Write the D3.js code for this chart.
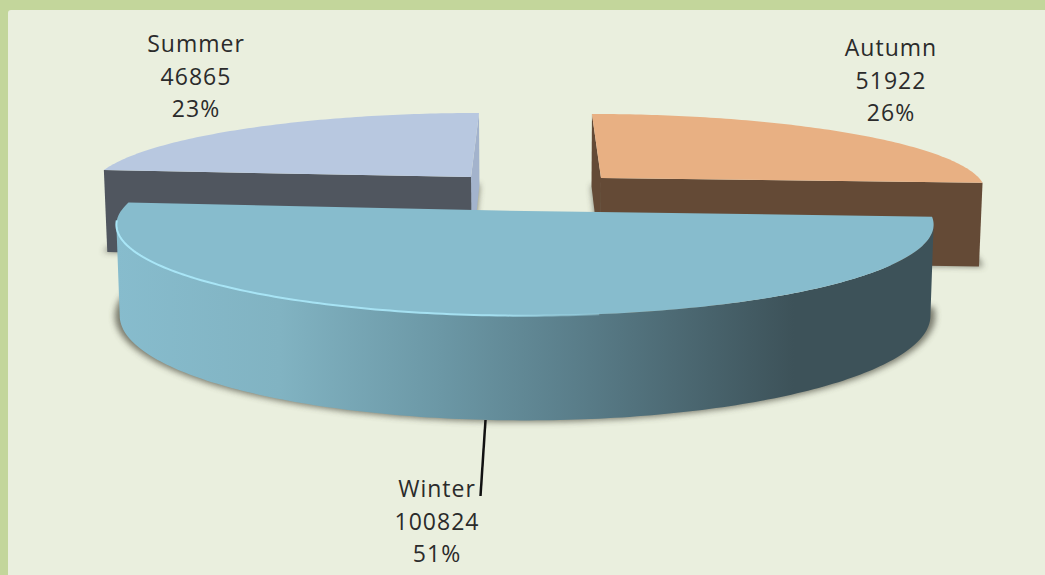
<!DOCTYPE html>
<html>
<head>
<meta charset="utf-8">
<script src="https://cdn.jsdelivr.net/npm/d3@7"></script>
<style>
  html, body { margin: 0; padding: 0; background: #c3d69b; overflow: hidden; }
  text { font-family: "Open Sans", sans-serif; font-size: 23px; letter-spacing: 1px; fill: #2b2b2b; text-anchor: middle; }
</style>
</head>
<body>
<div id="chart"></div>
<script>
// chart data, in pie order starting from 12 o'clock
const categories = ["Autumn", "Winter", "Summer"]
const values = [51922, 100824, 46865]

const width = 1045
const height = 575

// where each exploded slice sits and how it is squashed
const slicePlace = {
    Autumn: { cx: 601, cy: 178, rx: 378, ry: 73.6, lean: -10.4, depth: 83, top: "#e8b083", wall: "#644a36", farWall: "#644a36" },
    Winter: { cx: 525, cy: 211, rx: 404, ry: 89, lean: 0, depth: 89, top: "#87bccd", wall: "url(#winterSide)", farWall: "#3d5259" },
    Summer: { cx: 471, cy: 177, rx: 375, ry: 73.6, lean: 9.2, depth: 83, top: "#b8c8e0", wall: "#50565f", farWall: "#a3b3cc" }
}
const labelPlace = {
    Autumn: { x: 891, y: 56 },
    Winter: { x: 437, y: 497 },
    Summer: { x: 196, y: 52 }
}

const perspective = 0.15
const vanishX = 535
const floorShrink = 0.992

const svg = d3.select("#chart")
    .append("svg")
    .attr("width", width)
    .attr("height", height)
    .style("display", "block")

// background panel inside the green border
svg.append("rect")
    .attr("x", 8).attr("y", 10)
    .attr("width", width).attr("height", height)
    .attr("rx", 3)
    .attr("fill", "#eaefde")

const defs = svg.append("defs")

defs.append("filter")
    .attr("id", "soft")
    .attr("filterUnits", "userSpaceOnUse")
    .attr("x", 0).attr("y", 0).attr("width", width).attr("height", height)
    .append("feGaussianBlur")
    .attr("stdDeviation", 3)

const sideGrad = defs.append("linearGradient")
    .attr("id", "winterSide")
    .attr("gradientUnits", "userSpaceOnUse")
    .attr("x1", 116).attr("x2", 933).attr("y1", 0).attr("y2", 0)
sideGrad.selectAll("stop")
    .data([[0, "#87bccd"], [0.2, "#81b3c2"], [0.4, "#6b97a5"], [0.58, "#587b87"], [0.83, "#3d5259"], [1, "#3d5259"]])
    .join("stop")
    .attr("offset", d => d[0])
    .attr("stop-color", d => d[1])

const edgeGrad = defs.append("linearGradient")
    .attr("id", "winterEdge")
    .attr("gradientUnits", "userSpaceOnUse")
    .attr("x1", 116).attr("x2", 700).attr("y1", 0).attr("y2", 0)
edgeGrad.selectAll("stop")
    .data([[0, "#a9e6f7", 1], [0.65, "#a9e6f7", 0.9], [1, "#87bccd", 0]])
    .join("stop")
    .attr("offset", d => d[0])
    .attr("stop-color", d => d[1])
    .attr("stop-opacity", d => d[2])

const pie = d3.pie().sort(null).value(d => d.value)
const slices = pie(categories.map((c, i) => ({ name: c, value: values[i] })))
const total = d3.sum(values)

// squashed circle with a little perspective, far side smaller
function rimPoint(p, a, drop) {
    const s = 1 / (1 + perspective * Math.cos(a))
    const x = p.cx + (p.rx * Math.sin(a) + p.lean * Math.cos(a)) * s
    const y = p.cy - p.ry * Math.cos(a) * s
    return drop ? [vanishX + (x - vanishX) * floorShrink, y + p.depth * s] : [x, y]
}
function centerPoint(p, drop) {
    return drop ? [vanishX + (p.cx - vanishX) * floorShrink, p.cy + p.depth] : [p.cx, p.cy]
}
function arcAngles(a0, a1) {
    const n = Math.max(2, Math.ceil((a1 - a0) * 60))
    return d3.range(n + 1).map(i => a0 + (a1 - a0) * i / n)
}
const line = d3.line()
// widest points of the squashed circle, the rim only shows between them
const widest = Math.acos(-perspective)

function drawSlice(g, d) {
    const p = slicePlace[d.data.name]
    const rim = arcAngles(d.startAngle, d.endAngle)

    // floor shadow, slightly larger than the base
    const base = [centerPoint(p, true), ...rim.map(a => rimPoint(p, a, true))]
    const mid = centerPoint(p, true)
    g.append("path")
        .attr("d", line(base.map(q => [mid[0] + (q[0] - mid[0]) * 1.012, mid[1] + (q[1] - mid[1]) * 1.012])) + "Z")
        .attr("fill", "#4a4a3c")
        .attr("opacity", 0.7)
        .attr("filter", "url(#soft)")

    // cut walls
    const wall = (a, fill) => g.append("path")
        .attr("d", line([centerPoint(p), rimPoint(p, a), rimPoint(p, a, true), centerPoint(p, true)]) + "Z")
        .attr("fill", fill)
    if (d.data.name === "Autumn") {
        wall(d.startAngle, p.farWall)
        wall(d.endAngle, p.wall)
    } else if (d.data.name === "Summer") {
        wall(d.endAngle, p.farWall)
        wall(d.startAngle, p.wall)
    }

    // outer rim, front facing part only
    const a0 = Math.max(d.startAngle, widest)
    const a1 = Math.min(d.endAngle, Math.PI * 2 - widest)
    if (a1 > a0) {
        const front = arcAngles(a0, a1)
        g.append("path")
            .attr("d", line([...front.map(a => rimPoint(p, a)), ...front.slice().reverse().map(a => rimPoint(p, a, true))]) + "Z")
            .attr("fill", p.wall)
    }

    // top face
    g.append("path")
        .attr("d", line([centerPoint(p), ...rim.map(a => rimPoint(p, a))]) + "Z")
        .attr("fill", p.top)
}

// back slices first, winter sits in front
const order = ["Summer", "Autumn", "Winter"]
order.forEach(name => {
    drawSlice(svg.append("g").attr("class", name), slices.find(d => d.data.name === name))
})

// light bevel along winter's front edge
const winter = slices.find(d => d.data.name === "Winter")
svg.append("path")
    .attr("d", line(arcAngles(Math.PI * 0.95, winter.endAngle - 0.2).map(a => rimPoint(slicePlace.Winter, a))))
    .attr("fill", "none")
    .attr("stroke", "url(#winterEdge)")
    .attr("stroke-width", 2)

// leader line for the winter label
svg.append("line")
    .attr("x1", 485.5).attr("y1", 420)
    .attr("x2", 480.5).attr("y2", 496)
    .attr("stroke", "#111")
    .attr("stroke-width", 2.5)

// labels: name, value, percent
slices.forEach(d => {
    const pos = labelPlace[d.data.name]
    const t = svg.append("text").attr("x", pos.x).attr("y", pos.y)
    const rows = [d.data.name, d.data.value, d3.format(".0%")(d.data.value / total)]
    rows.forEach((row, i) => {
        t.append("tspan")
            .attr("x", pos.x)
            .attr("dy", i === 0 ? 0 : 32.5)
            .text(row)
    })
})
</script>
</body>
</html>
